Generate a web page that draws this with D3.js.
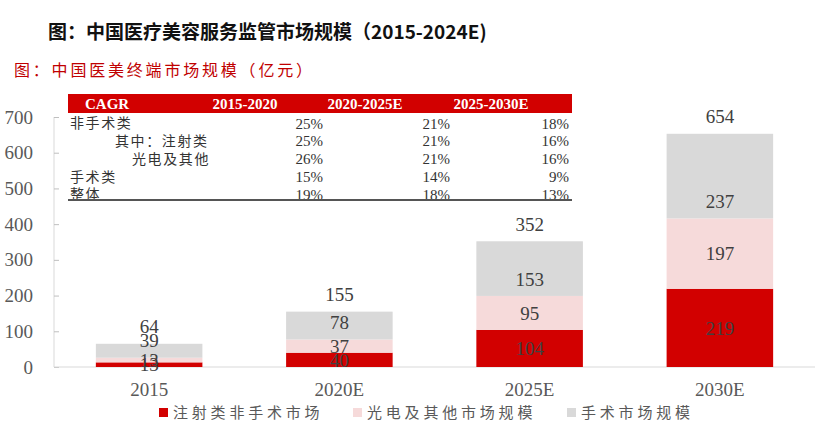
<!DOCTYPE html>
<html><head><meta charset="utf-8">
<script src="https://cdn.jsdelivr.net/npm/d3@7/dist/d3.min.js"></script>
<style>
html,body{margin:0;padding:0;background:#fff;}
svg{display:block;}
</style></head>
<body>
<svg id="c" width="818" height="437"></svg>
<script>
// ---- data ----
const categories = ["2015", "2020E", "2025E", "2030E"];
const injection = [13, 40, 104, 219];   // 注射类非手术市场
const photo = [13, 37, 95, 197];        // 光电及其他市场规模
const surgery = [39, 78, 153, 237];     // 手术市场规模
const totals = [64, 155, 352, 654];
const yTicks = [0, 100, 200, 300, 400, 500, 600, 700];
const seriesNames = ["注射类非手术市场", "光电及其他市场规模", "手术市场规模"];
const cagrHeader = ["CAGR", "2015-2020", "2020-2025E", "2025-2030E"];
const cagrLabels = ["非手术类", "其中：注射类", "光电及其他", "手术类", "整体"];
const cagr1520 = ["25%", "25%", "26%", "15%", "19%"];
const cagr2025 = ["21%", "21%", "21%", "14%", "18%"];
const cagr2530 = ["18%", "16%", "16%", "9%", "13%"];
const title = "图：中国医疗美容服务监管市场规模（2015-2024E)";
const subtitle = "图：中国医美终端市场规模（亿元）";

// ---- styles ----
const RED = "#d20000", PINK = "#f6dada", GRAY = "#d9d9d9";
const colors = [RED, PINK, GRAY];
const serif = "'Liberation Serif','Times New Roman',serif";
const cjk = "'Noto Sans CJK SC','Liberation Serif',serif";

const svg = d3.select("#c");

// titles
svg.append("text").attr("x", 48).attr("y", 32).attr("dy", "0.35em")
  .attr("font-family", "'Noto Sans CJK SC',sans-serif").attr("font-weight", 700)
  .attr("font-size", 19).attr("fill", "#111").text(title);
svg.append("text").attr("x", 14).attr("y", 70).attr("dy", "0.35em")
  .attr("font-family", cjk).attr("font-size", 16).attr("letter-spacing", "2.8px")
  .attr("fill", "#c00000").text(subtitle);

// scales
const x = d3.scaleBand().domain(categories).range([54, 815]).paddingInner(0.44).paddingOuter(0.22);
const y = d3.scaleLinear().domain([0, 700]).range([367, 117]);

// y axis
const yAxis = d3.axisLeft(y).tickValues(yTicks).tickSize(-5).tickPadding(21).tickFormat(d3.format("d"));
const ga = svg.append("g").attr("transform", "translate(54,0)").call(yAxis);
ga.select(".domain").attr("stroke", GRAY).attr("d", "M0," + y(700) + "V" + y(0));
ga.selectAll(".tick line").attr("stroke", "#bfbfbf");
ga.selectAll(".tick text").attr("font-family", serif).attr("font-size", 19).attr("fill", "#595959");

// baseline
svg.append("line").attr("x1", 54).attr("x2", 815).attr("y1", y(0)).attr("y2", y(0))
  .attr("stroke", GRAY).attr("stroke-width", 1);

// stacked bars
const rows = categories.map((c, i) => ({cat: c, s0: injection[i], s1: photo[i], s2: surgery[i], total: totals[i]}));
const stack = d3.stack().keys(["s0", "s1", "s2"])(rows);
stack.forEach((layer, li) => {
  svg.append("g").selectAll("rect").data(layer).join("rect")
    .attr("x", d => x(d.data.cat)).attr("width", x.bandwidth())
    .attr("y", d => y(d[1])).attr("height", d => y(d[0]) - y(d[1]))
    .attr("fill", colors[li]);
});
// segment labels
stack.forEach((layer, li) => {
  svg.append("g").selectAll("text").data(layer).join("text")
    .attr("x", d => x(d.data.cat) + x.bandwidth() / 2)
    .attr("y", d => li === 2 ? y(d[0]) - 17 : (y(d[0]) + y(d[1])) / 2)
    .attr("dy", "0.35em").attr("text-anchor", "middle")
    .attr("font-family", serif).attr("font-size", 19).attr("fill", "#404040")
    .text(d => d.data[layer.key]);
});
// totals
svg.append("g").selectAll("text").data(stack[2]).join("text")
  .attr("x", d => x(d.data.cat) + x.bandwidth() / 2)
  .attr("y", d => y(d[1]) - 17).attr("dy", "0.35em").attr("text-anchor", "middle")
  .attr("font-family", serif).attr("font-size", 19).attr("fill", "#404040")
  .text(d => d.data.total);

// x axis labels
const xAxis = d3.axisBottom(x).tickSize(0).tickPadding(16);
const gx = svg.append("g").attr("transform", "translate(0," + y(0) + ")").call(xAxis);
gx.select(".domain").remove();
gx.selectAll(".tick text").attr("font-family", serif).attr("font-size", 19).attr("fill", "#595959");

// CAGR table
const tbl = svg.append("g");
tbl.append("rect").attr("x", 68).attr("y", 94).attr("width", 504).attr("height", 19).attr("fill", RED);
const headX = [85, 245, 365, 491];
const headAnchor = ["start", "middle", "middle", "middle"];
cagrHeader.forEach((h, i) => {
  tbl.append("text").attr("x", headX[i]).attr("y", 103.5).attr("dy", "0.35em")
    .attr("text-anchor", headAnchor[i]).attr("font-family", serif).attr("font-weight", 700)
    .attr("font-size", 15).attr("fill", "#fff").text(h);
});
const rowY = d3.scalePoint().domain(cagrLabels).range([123.5, 194.3]);
const labelX = {"其中：注射类": 115, "光电及其他": 132};
cagrLabels.forEach((lab, i) => {
  tbl.append("text").attr("x", labelX[lab] || 70).attr("y", rowY(lab)).attr("dy", "0.35em")
    .attr("font-family", cjk).attr("font-size", 14).attr("letter-spacing", "1.6px")
    .attr("fill", "#333").text(lab);
  [[cagr1520, 323], [cagr2025, 450], [cagr2530, 569]].forEach(([arr, cx]) => {
    tbl.append("text").attr("x", cx).attr("y", rowY(lab)).attr("dy", "0.35em")
      .attr("text-anchor", "end").attr("font-family", serif).attr("font-size", 15)
      .attr("fill", "#333").text(arr[i]);
  });
});
tbl.append("line").attr("x1", 68).attr("x2", 572).attr("y1", 200).attr("y2", 200)
  .attr("stroke", "#555").attr("stroke-width", 2);

// legend
const legX = [159, 353, 567];
const lg = svg.append("g");
seriesNames.forEach((n, i) => {
  lg.append("rect").attr("x", legX[i]).attr("y", 408).attr("width", 9).attr("height", 9).attr("fill", colors[i]);
  lg.append("text").attr("x", legX[i] + 14).attr("y", 412.5).attr("dy", "0.35em")
    .attr("font-family", cjk).attr("font-size", 15).attr("letter-spacing", "3.8px")
    .attr("fill", "#595959").text(n);
});
</script>
</body></html>
